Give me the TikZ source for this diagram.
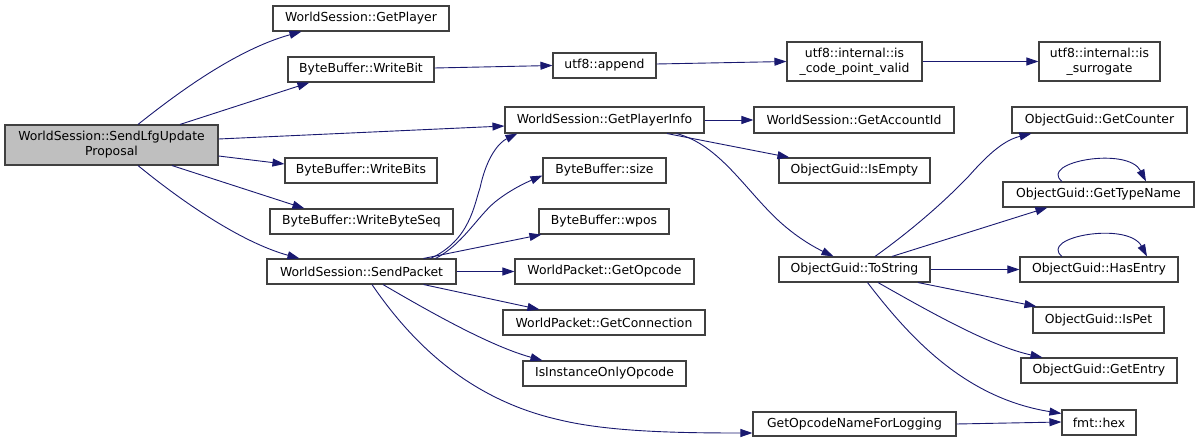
\documentclass[tikz,border=0pt]{standalone}
\usepackage{fontspec}
\setmainfont{DejaVu Sans}
\usetikzlibrary{arrows.meta}
\definecolor{edgec}{HTML}{191970}
\definecolor{boxc}{HTML}{404040}
\definecolor{mainfill}{HTML}{BFBFBF}
\tikzset{
  box/.style={draw=boxc, line width=1.1pt, fill=white, inner sep=0pt, minimum height=25pt, align=center, font=\fontsize{12.4}{15}\selectfont},
  edge/.style={draw=edgec, line width=0.9pt, -{Triangle[length=12pt,width=8pt]}}
}
\begin{document}
\begin{tikzpicture}[x=1pt,y=-1pt]
\useasboundingbox (0,0) rectangle (1200,443);
% nodes
\node[box, fill=mainfill, minimum width=213pt, minimum height=40pt] (main) at (111.5,145) {WorldSession::SendLfgUpdate\\Proposal};
\node[box, minimum width=176pt] (getplayer) at (361,18.5) {WorldSession::GetPlayer};
\node[box, minimum width=146pt] (writebit) at (361,69.5) {ByteBuffer::WriteBit};
\node[box, minimum width=152pt] (writebits) at (361,170.5) {ByteBuffer::WriteBits};
\node[box, minimum width=183pt] (writebyteseq) at (361.5,221.5) {ByteBuffer::WriteByteSeq};
\node[box, minimum width=189pt] (sendpacket) at (361.5,271.5) {WorldSession::SendPacket};
\node[box, minimum width=103pt] (append) at (604.5,65.5) {utf8::append};
\node[box, minimum width=135pt, minimum height=39pt] (codept) at (854.5,61.5) {utf8::internal::is\\\_code\_point\_valid};
\node[box, minimum width=121pt, minimum height=39pt] (surrogate) at (1099.5,61.5) {utf8::internal::is\\\_surrogate};
\node[box, minimum width=199pt, minimum height=26pt] (playerinfo) at (604.5,120) {WorldSession::GetPlayerInfo};
\node[box, minimum width=200pt, minimum height=26pt] (accountid) at (854,120) {WorldSession::GetAccountId};
\node[box, minimum width=151pt] (isempty) at (854.5,170.5) {ObjectGuid::IsEmpty};
\node[box, minimum width=123pt] (size) at (604.5,170.5) {ByteBuffer::size};
\node[box, minimum width=130pt] (wpos) at (604,221.5) {ByteBuffer::wpos};
\node[box, minimum width=179pt] (getopcode) at (604.5,271.5) {WorldPacket::GetOpcode};
\node[box, minimum width=202pt] (getconn) at (604,322.5) {WorldPacket::GetConnection};
\node[box, minimum width=163pt] (isinst) at (604.5,373.5) {IsInstanceOnlyOpcode};
\node[box, minimum width=203pt, minimum height=24pt] (opname) at (854.5,424) {GetOpcodeNameForLogging};
\node[box, minimum width=151pt] (tostring) at (854.5,269.5) {ObjectGuid::ToString};
\node[box, minimum width=175pt, minimum height=26pt] (counter) at (1099.5,120) {ObjectGuid::GetCounter};
\node[box, minimum width=191pt] (typename) at (1098.5,194.5) {ObjectGuid::GetTypeName};
\node[box, minimum width=158pt] (hasentry) at (1099,269.5) {ObjectGuid::HasEntry};
\node[box, minimum width=131pt, minimum height=26pt] (ispet) at (1098.5,320) {ObjectGuid::IsPet};
\node[box, minimum width=156pt] (getentry) at (1099,370.5) {ObjectGuid::GetEntry};
\node[box, minimum width=74pt] (hex) at (1099,422.5) {fmt::hex};
% edges from main
\draw[edge] ([xshift=26.5pt]main.north) .. controls (175,95) and (235,50) .. ([xshift=29pt]getplayer.south west);
\draw[edge] ([xshift=68.5pt]main.north) -- ([xshift=22pt]writebit.south west);
\draw[edge] ([yshift=6pt]main.east) -- ([yshift=-6pt]playerinfo.west);
\draw[edge] ([yshift=-11pt]main.east) -- ([yshift=6.5pt]writebits.west);
\draw[edge] ([xshift=60.5pt]main.south) -- ([xshift=35pt]writebyteseq.north west);
\draw[edge] ([xshift=26.5pt]main.south) .. controls (180,200) and (240,242) .. ([xshift=33pt]sendpacket.north west);
% utf8 chain
\draw[edge] ([yshift=1.5pt]writebit.east) -- ([yshift=0pt]append.west);
\draw[edge] ([yshift=1.5pt]append.east) -- ([yshift=0pt]codept.west);
\draw[edge] (codept.east) -- (surrogate.west);
% player info
\draw[edge] (playerinfo.east) -- (accountid.west);
\draw[edge] ([xshift=62.5pt]playerinfo.south) -- ([xshift=11pt]isempty.north west);
\draw[edge] ([xshift=72pt]playerinfo.south) .. controls (720,145) and (745,190) .. (780,222) .. controls (800,240) and (818,249) .. ([xshift=-21pt]tostring.north);
% sendpacket
\draw[edge] ([xshift=-26pt]sendpacket.north east) .. controls (470,240) and (474,205) .. (480,188) .. controls (487,155) and (500,142) .. ([xshift=13pt]playerinfo.south west);
\draw[edge] ([xshift=-21pt]sendpacket.north east) .. controls (462,245) and (478,216) .. (495,202) .. controls (510,190) and (525,183) .. ([yshift=-5pt]size.west);
\draw[edge] ([xshift=-33pt]sendpacket.north east) -- ([xshift=3pt]wpos.south west);
\draw[edge] (sendpacket.east) -- (getopcode.west);
\draw[edge] ([xshift=-33pt]sendpacket.south east) -- ([xshift=37pt]getconn.north west);
\draw[edge] ([xshift=21.5pt]sendpacket.south) .. controls (430,312) and (490,346) .. ([xshift=20pt]isinst.north west);
\draw[edge] ([xshift=10.5pt]sendpacket.south) .. controls (420,355) and (480,402) .. (560,420) .. controls (610,432) and (680,433) .. ([yshift=-9pt]opname.west);
% tostring
\draw[edge] ([xshift=20.5pt]tostring.north) .. controls (905,235) and (938,208) .. (968,177) .. controls (990,152) and (1005,140) .. ([xshift=20pt]counter.south west);
\draw[edge] ([xshift=37.5pt]tostring.north) -- ([xshift=45pt]typename.south west);
\draw[edge] ([xshift=-36.5pt]typename.north) .. controls (1038,162) and (1128,146) .. ([xshift=47.5pt]typename.north);
\draw[edge] (tostring.east) -- (hasentry.west);
\draw[edge] ([xshift=-37pt]hasentry.north) .. controls (1038,237) and (1128,221) .. ([xshift=48pt]hasentry.north);
\draw[edge] ([xshift=63.5pt]tostring.south) -- ([xshift=4pt]ispet.north west);
\draw[edge] ([xshift=23.5pt]tostring.south) .. controls (930,312) and (990,346) .. ([xshift=22pt]getentry.north west);
\draw[edge] ([xshift=13pt]tostring.south) .. controls (910,338) and (965,398) .. ([yshift=9pt]hex.west);
\draw[edge] (opname.east) -- ([yshift=0.5pt]hex.west);
\end{tikzpicture}
\end{document}
